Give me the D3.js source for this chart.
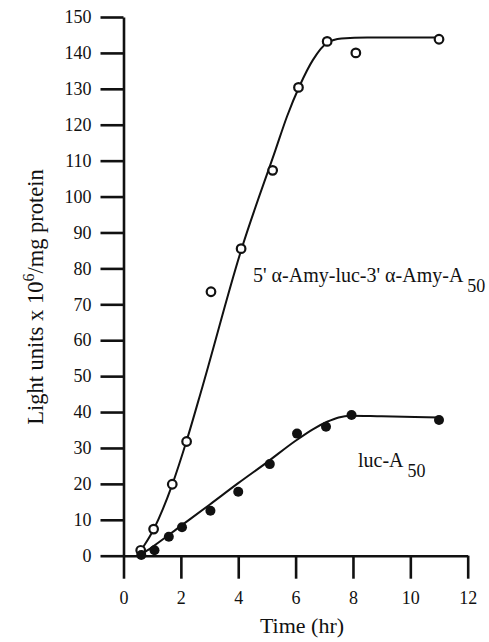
<!DOCTYPE html>
<html>
<head>
  <meta charset="utf-8">
  <title>Light units over time</title>
  <style>
    body { margin: 0; background: #fff; }
    svg text { font-family: "Liberation Serif", "Times New Roman", serif !important; fill: #111; }
  </style>
  <script src="https://d3js.org/d3.v7.min.js"></script>
</head>
<body>
  <div id="container"></div>
  <script>
    //*******DATA*******
    // 5' a-Amy-luc-3' a-Amy-A50 (open circles)
    const amyTime = [0.6, 1.05, 1.7, 2.2, 3.05, 4.1, 5.2, 6.1, 7.1, 8.1, 11.0];
    const amyLight = [1.5, 7.4, 19.9, 31.8, 73.5, 85.5, 107.3, 130.4, 143.2, 140.0, 143.8];
    // fitted curve
    const amyCurveTime = [0.5, 0.6, 1.05, 1.7, 2.2, 2.75, 4.1, 5.3, 5.7, 6.15, 6.6, 7.1, 7.6, 8.5, 11.0];
    const amyCurveLight = [0, 1.3, 7.3, 19.8, 32, 47, 85, 113, 122.3, 131, 138, 142.8, 144, 144.3, 144.3];

    // luc-A50 (filled circles)
    const lucTime = [0.62, 1.08, 1.58, 2.04, 3.03, 4.0, 5.1, 6.05, 7.06, 7.95, 11.0];
    const lucLight = [0.2, 1.5, 5.3, 7.9, 12.5, 17.8, 25.5, 34.0, 35.9, 39.2, 37.8];
    const lucCurveTime = [0.55, 1, 2, 3, 4, 5, 6, 6.6, 7.1, 7.5, 7.9, 9, 11];
    const lucCurveLight = [0, 2.4, 8.3, 14.2, 20.2, 26, 32, 35.2, 37.3, 38.5, 39, 38.8, 38.5];

    const xTicks = [0, 2, 4, 6, 8, 10, 12];
    const yTicks = [0, 10, 20, 30, 40, 50, 60, 70, 80, 90, 100, 110, 120, 130, 140, 150];

    //*******SVG*******
    const width = 489, height = 642;
    const svg = d3.select("#container").append("svg")
      .attr("width", width)
      .attr("height", height);

    const x = d3.scaleLinear().domain([0, 12]).range([123.5, 467.7]);
    const y = d3.scaleLinear().domain([0, 150]).range([555.7, 17]);

    // axes
    const xAxis = svg.append("g")
      .attr("transform", "translate(0," + y(0) + ")")
      .call(d3.axisBottom(x).tickValues(xTicks).tickSize(23).tickSizeOuter(0).tickPadding(8));
    const yAxis = svg.append("g")
      .attr("transform", "translate(" + x(0) + ",0)")
      .call(d3.axisLeft(y).tickValues(yTicks).tickSize(23).tickSizeOuter(0).tickPadding(9));

    [xAxis, yAxis].forEach(function(g){
      g.attr("font-family", null).attr("font-size", null);
      g.selectAll("path.domain").attr("stroke", "#111").attr("stroke-width", 2.6);
      g.selectAll(".tick line").attr("stroke", "#111").attr("stroke-width", 2.6);
      g.selectAll(".tick text")
        .style("font-size", "18px")
        .attr("fill", "#111");
    });
    xAxis.selectAll(".tick text").attr("dy", "0.95em");

    // curves
    const line = d3.line()
      .x(function(d){ return x(d[0]); })
      .y(function(d){ return y(d[1]); })
      .curve(d3.curveMonotoneX);

    svg.append("path")
      .datum(d3.zip(amyCurveTime, amyCurveLight))
      .attr("d", line)
      .attr("fill", "none")
      .attr("stroke", "#111")
      .attr("stroke-width", 2);

    svg.append("path")
      .datum(d3.zip(lucCurveTime, lucCurveLight))
      .attr("d", line)
      .attr("fill", "none")
      .attr("stroke", "#111")
      .attr("stroke-width", 2);

    // points
    svg.selectAll("circle.amy")
      .data(d3.zip(amyTime, amyLight))
      .enter().append("circle")
      .attr("class", "amy")
      .attr("cx", function(d){ return x(d[0]); })
      .attr("cy", function(d){ return y(d[1]); })
      .attr("r", 4.3)
      .attr("fill", "#fff")
      .attr("stroke", "#111")
      .attr("stroke-width", 2.2);

    svg.selectAll("circle.luc")
      .data(d3.zip(lucTime, lucLight))
      .enter().append("circle")
      .attr("class", "luc")
      .attr("cx", function(d){ return x(d[0]); })
      .attr("cy", function(d){ return y(d[1]); })
      .attr("r", 5)
      .attr("fill", "#111");

    // series labels
    const amyLabel = svg.append("text")
      .attr("x", 253)
      .attr("y", 282)
      .style("font-size", "20px");
    amyLabel.append("tspan").text("5' \u03b1-Amy-luc-3' \u03b1-Amy-A ");
    amyLabel.append("tspan").attr("dy", 10).style("font-size", "18px").text("50");

    const lucLabel = svg.append("text")
      .attr("x", 358)
      .attr("y", 467)
      .style("font-size", "20px");
    lucLabel.append("tspan").text("luc-A ");
    lucLabel.append("tspan").attr("dy", 10).style("font-size", "18px").text("50");

    // axis titles
    svg.append("text")
      .attr("x", 302)
      .attr("y", 633)
      .attr("text-anchor", "middle")
      .style("font-size", "22px")
      .text("Time (hr)");

    const yTitle = svg.append("text")
      .attr("transform", "translate(43,297) rotate(-90)")
      .attr("text-anchor", "middle")
      .style("font-size", "22.5px");
    yTitle.append("tspan").text("Light units x 10");
    yTitle.append("tspan").attr("dy", -9).style("font-size", "16px").text("6");
    yTitle.append("tspan").attr("dy", 9).text("/mg protein");
  </script>
</body>
</html>
